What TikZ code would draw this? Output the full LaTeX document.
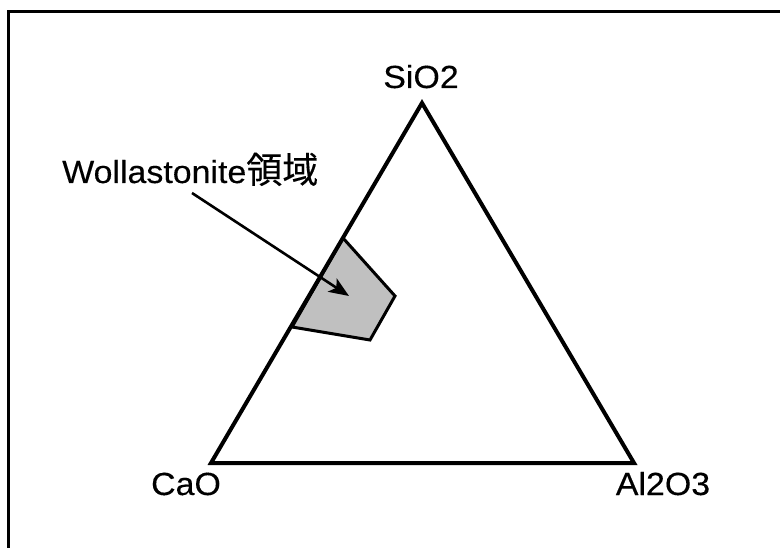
\documentclass[tikz,border=0pt]{standalone}
\usepackage{fontspec}
\usetikzlibrary{arrows.meta}
\newfontfamily\labfont[FakeStretch=1.06,FakeBold=0.25]{Liberation Sans}
\newfontfamily\cjkfont[FakeBold=0.25]{Noto Sans CJK JP}
\definecolor{regiongray}{HTML}{C0C0C0}
\begin{document}
\begin{tikzpicture}[x=1pt,y=-1pt,
  lbl/.style={font=\labfont\fontsize{32}{38}\selectfont, inner sep=0pt, anchor=base},
  edge/.style={line width=4pt, line join=miter},
  region/.style={fill=regiongray, draw=black, line width=3pt, line join=miter},
  pointer/.style={line width=2.6pt, -{Stealth[length=20pt,width=16pt,inset=5pt]}}]
\useasboundingbox (0,0) rectangle (780,548);
\fill[white] (0,0) rectangle (780,548);
% frame
\draw[line width=3pt] (8,560) -- (8,12) -- (790,12);
% vertices
\coordinate (S) at (422,103);
\coordinate (C) at (211,463);
\coordinate (A) at (634,463);
% region
\coordinate (r1) at (343,238);
\coordinate (r2) at (395,296);
\coordinate (r3) at (370,340);
\coordinate (r4) at (292,327);
\draw[region] (r1) -- (r2) -- (r3) -- (r4) -- cycle;
% triangle
\draw[edge] (S) -- (A) -- (C) -- cycle;
% labels
\node[lbl] (sio2) at (421,88) {SiO2};
\node[lbl] (cao) at (186,495) {CaO};
\node[lbl] (al2o3) at (663,495) {Al2O3};
\node[lbl, anchor=base west] (woll) at (62,183) {Wollastonite{\cjkfont\fontsize{36}{40}\selectfont 領域}};
% arrow
\coordinate (a0) at (192,193);
\coordinate (a1) at (349,296);
\draw[pointer] (a0) -- (a1);
\end{tikzpicture}
\end{document}
